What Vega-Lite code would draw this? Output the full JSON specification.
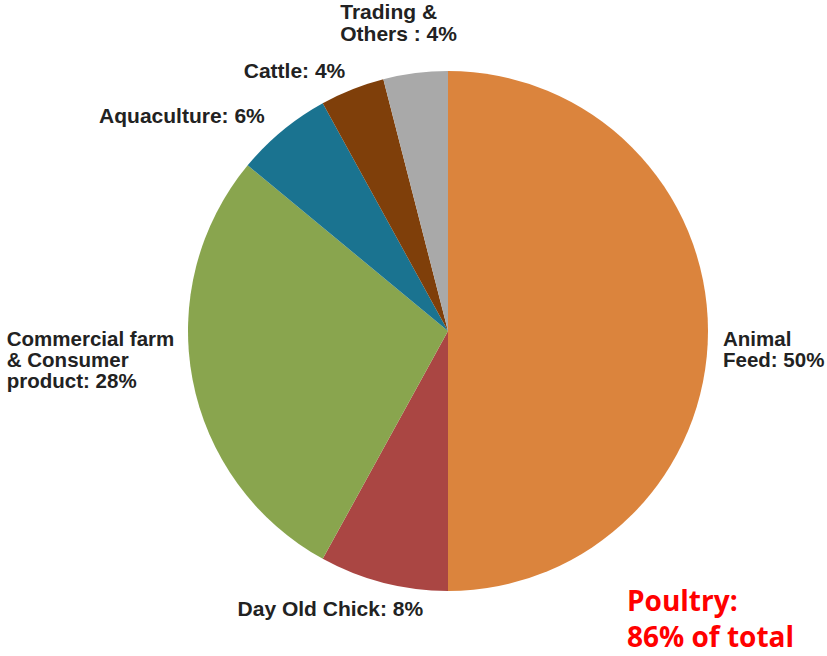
{
  "$schema": "https://vega.github.io/schema/vega-lite/v6.json",
  "width": 660,
  "height": 600,
  "autosize": {"type": "none"},
  "padding": {"left": 118, "top": 31, "right": 49, "bottom": 25},
  "background": "white",
  "view": {"stroke": null},
  "title": {
    "text": ["Poultry:", "86% of total"],
    "orient": "bottom",
    "anchor": "start",
    "frame": "group",
    "align": "left",
    "baseline": "alphabetic",
    "dx": 509,
    "offset": -20,
    "lineHeight": 36,
    "font": "Open Sans",
    "fontSize": 28,
    "fontWeight": "bold",
    "color": "#FF0000"
  },
  "data": {
    "values": [
      {"category": "Animal Feed", "value": 50, "idx": 1, "label": "Animal\nFeed: 50%"},
      {"category": "Day Old Chick", "value": 8, "idx": 2, "label": "Day Old Chick: 8%"},
      {"category": "Commercial farm & Consumer product", "value": 28, "idx": 3, "label": "Commercial farm\n& Consumer\nproduct: 28%"},
      {"category": "Aquaculture", "value": 6, "idx": 4, "label": "Aquaculture: 6%"},
      {"category": "Cattle", "value": 4, "idx": 5, "label": "Cattle: 4%"},
      {"category": "Trading & Others", "value": 4, "idx": 6, "label": "Trading &\nOthers : 4%"}
    ]
  },
  "encoding": {
    "theta": {"field": "value", "type": "quantitative", "stack": true},
    "order": {"field": "idx", "type": "quantitative"}
  },
  "layer": [
    {
      "mark": {"type": "arc", "outerRadius": 260},
      "encoding": {
        "color": {
          "field": "category",
          "type": "nominal",
          "legend": null,
          "scale": {
            "domain": ["Animal Feed", "Day Old Chick", "Commercial farm & Consumer product", "Aquaculture", "Cattle", "Trading & Others"],
            "range": ["#DB843D", "#AA4643", "#89A54E", "#1A7390", "#7F3F0A", "#A9A9A9"]
          }
        }
      }
    },
    {
      "mark": {"type": "text", "radius": 275, "align": "left", "baseline": "middle", "dy": 9, "lineBreak": "\n", "lineHeight": 21, "font": "Liberation Sans", "fontSize": 20.5, "fontWeight": "bold", "fill": "#222222"},
      "encoding": {"text": {"condition": {"test": "datum.category === 'Animal Feed'", "field": "label"}, "value": ""}}
    },
    {
      "mark": {"type": "text", "radius": 288, "align": "center", "baseline": "middle", "dx": -46, "lineBreak": "\n", "lineHeight": 21, "font": "Liberation Sans", "fontSize": 21, "fontWeight": "bold", "fill": "#222222"},
      "encoding": {"text": {"condition": {"test": "datum.category === 'Day Old Chick'", "field": "label"}, "value": ""}}
    },
    {
      "mark": {"type": "text", "radius": 270, "align": "left", "baseline": "middle", "dx": -176, "dy": -42, "lineBreak": "\n", "lineHeight": 21, "font": "Liberation Sans", "fontSize": 20.5, "fontWeight": "bold", "fill": "#222222"},
      "encoding": {"text": {"condition": {"test": "datum.category === 'Commercial farm & Consumer product'", "field": "label"}, "value": ""}}
    },
    {
      "mark": {"type": "text", "radius": 278, "align": "right", "baseline": "middle", "dx": -6, "lineBreak": "\n", "lineHeight": 21, "font": "Liberation Sans", "fontSize": 21, "fontWeight": "bold", "fill": "#222222"},
      "encoding": {"text": {"condition": {"test": "datum.category === 'Aquaculture'", "field": "label"}, "value": ""}}
    },
    {
      "mark": {"type": "text", "radius": 279, "align": "right", "baseline": "middle", "lineBreak": "\n", "lineHeight": 21, "font": "Liberation Sans", "fontSize": 21, "fontWeight": "bold", "fill": "#222222"},
      "encoding": {"text": {"condition": {"test": "datum.category === 'Cattle'", "field": "label"}, "value": ""}}
    },
    {
      "mark": {"type": "text", "radius": 309, "align": "left", "baseline": "middle", "dx": -69, "dy": -11, "lineBreak": "\n", "lineHeight": 21.5, "font": "Liberation Sans", "fontSize": 21, "fontWeight": "bold", "fill": "#222222"},
      "encoding": {"text": {"condition": {"test": "datum.category === 'Trading & Others'", "field": "label"}, "value": ""}}
    }
  ]
}
